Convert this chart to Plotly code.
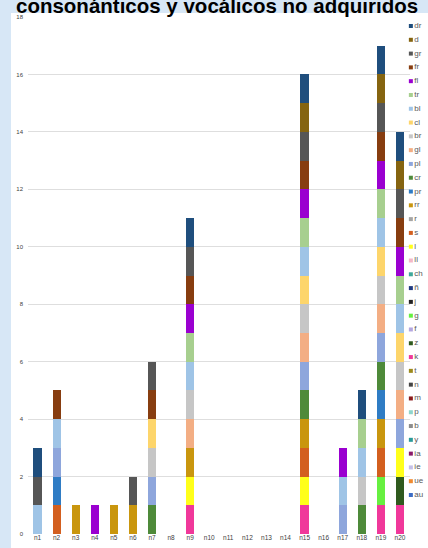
import plotly.graph_objects as go

# ---------------- DATA ----------------
categories = ["n1", "n2", "n3", "n4", "n5", "n6", "n7", "n8", "n9", "n10",
              "n11", "n12", "n13", "n14", "n15", "n16", "n17", "n18", "n19", "n20"]

y_ticks = [0, 2, 4, 6, 8, 10, 12, 14, 16, 18]

title_text = "consonánticos y vocálicos no adquiridos"

# series listed in legend order (top of stack first)
series_names = ["dr", "d", "gr", "fr", "fl", "tr", "bl", "cl", "br", "gl",
                "pl", "cr", "pr", "rr", "r", "s", "l", "ll", "ch", "ñ",
                "j", "g", "f", "z", "k", "t", "n", "m", "p", "b",
                "y", "ia", "ie", "ue", "au"]

series_colors = ["#1f4e7d", "#856410", "#565656", "#873d10", "#9a00d0", "#a7cf8f", "#9fc4e6", "#fdd56b", "#c6c6c6", "#f3ae84",
                 "#8ea6dc", "#4e8a3a", "#2f7cc4", "#c9960e", "#a5a5a5", "#d35f1f", "#ffff1a", "#f4b8c8", "#3fa89a", "#203a80",
                 "#222222", "#66f040", "#b4a7e0", "#2f5a1e", "#f0389a", "#9c8a1c", "#444444", "#8b1a1a", "#8fd5cc", "#8c8c8c",
                 "#2a9a9a", "#8a1a6a", "#c4c0e8", "#f08a30", "#3c6cc4"]

v_dr = [1, 0, 0, 0, 0, 0, 0, 0, 1, 0, 0, 0, 0, 0, 1, 0, 0, 1, 1, 1]
v_d  = [0, 0, 0, 0, 0, 0, 0, 0, 0, 0, 0, 0, 0, 0, 1, 0, 0, 0, 1, 1]
v_gr = [1, 0, 0, 0, 0, 1, 1, 0, 1, 0, 0, 0, 0, 0, 1, 0, 0, 0, 1, 1]
v_fr = [0, 1, 0, 0, 0, 0, 1, 0, 1, 0, 0, 0, 0, 0, 1, 0, 0, 0, 1, 1]
v_fl = [0, 0, 0, 1, 0, 0, 0, 0, 1, 0, 0, 0, 0, 0, 1, 0, 1, 0, 1, 1]
v_tr = [0, 0, 0, 0, 0, 0, 0, 0, 1, 0, 0, 0, 0, 0, 1, 0, 0, 1, 1, 1]
v_bl = [1, 1, 0, 0, 0, 0, 0, 0, 1, 0, 0, 0, 0, 0, 1, 0, 1, 1, 1, 1]
v_cl = [0, 0, 0, 0, 0, 0, 1, 0, 0, 0, 0, 0, 0, 0, 1, 0, 0, 0, 1, 1]
v_br = [0, 0, 0, 0, 0, 0, 1, 0, 1, 0, 0, 0, 0, 0, 1, 0, 0, 1, 1, 1]
v_gl = [0, 0, 0, 0, 0, 0, 0, 0, 1, 0, 0, 0, 0, 0, 1, 0, 0, 0, 1, 1]
v_pl = [0, 1, 0, 0, 0, 0, 1, 0, 0, 0, 0, 0, 0, 0, 1, 0, 1, 0, 1, 1]
v_cr = [0, 0, 0, 0, 0, 0, 1, 0, 0, 0, 0, 0, 0, 0, 1, 0, 0, 1, 1, 0]
v_pr = [0, 1, 0, 0, 0, 0, 0, 0, 0, 0, 0, 0, 0, 0, 0, 0, 0, 0, 1, 0]
v_rr = [0, 0, 1, 0, 1, 1, 0, 0, 1, 0, 0, 0, 0, 0, 1, 0, 0, 0, 1, 0]
v_r  = [0, 0, 0, 0, 0, 0, 0, 0, 0, 0, 0, 0, 0, 0, 0, 0, 0, 0, 0, 0]
v_s  = [0, 1, 0, 0, 0, 0, 0, 0, 0, 0, 0, 0, 0, 0, 1, 0, 0, 0, 1, 0]
v_l  = [0, 0, 0, 0, 0, 0, 0, 0, 1, 0, 0, 0, 0, 0, 1, 0, 0, 0, 0, 1]
v_ll = [0, 0, 0, 0, 0, 0, 0, 0, 0, 0, 0, 0, 0, 0, 0, 0, 0, 0, 0, 0]
v_ch = [0, 0, 0, 0, 0, 0, 0, 0, 0, 0, 0, 0, 0, 0, 0, 0, 0, 0, 0, 0]
v_nn = [0, 0, 0, 0, 0, 0, 0, 0, 0, 0, 0, 0, 0, 0, 0, 0, 0, 0, 0, 0]
v_j  = [0, 0, 0, 0, 0, 0, 0, 0, 0, 0, 0, 0, 0, 0, 0, 0, 0, 0, 0, 0]
v_g  = [0, 0, 0, 0, 0, 0, 0, 0, 0, 0, 0, 0, 0, 0, 0, 0, 0, 0, 1, 0]
v_f  = [0, 0, 0, 0, 0, 0, 0, 0, 0, 0, 0, 0, 0, 0, 0, 0, 0, 0, 0, 0]
v_z  = [0, 0, 0, 0, 0, 0, 0, 0, 0, 0, 0, 0, 0, 0, 0, 0, 0, 0, 0, 1]
v_k  = [0, 0, 0, 0, 0, 0, 0, 0, 1, 0, 0, 0, 0, 0, 1, 0, 0, 0, 1, 1]
v_t  = [0, 0, 0, 0, 0, 0, 0, 0, 0, 0, 0, 0, 0, 0, 0, 0, 0, 0, 0, 0]
v_n  = [0, 0, 0, 0, 0, 0, 0, 0, 0, 0, 0, 0, 0, 0, 0, 0, 0, 0, 0, 0]
v_m  = [0, 0, 0, 0, 0, 0, 0, 0, 0, 0, 0, 0, 0, 0, 0, 0, 0, 0, 0, 0]
v_p  = [0, 0, 0, 0, 0, 0, 0, 0, 0, 0, 0, 0, 0, 0, 0, 0, 0, 0, 0, 0]
v_b  = [0, 0, 0, 0, 0, 0, 0, 0, 0, 0, 0, 0, 0, 0, 0, 0, 0, 0, 0, 0]
v_y  = [0, 0, 0, 0, 0, 0, 0, 0, 0, 0, 0, 0, 0, 0, 0, 0, 0, 0, 0, 0]
v_ia = [0, 0, 0, 0, 0, 0, 0, 0, 0, 0, 0, 0, 0, 0, 0, 0, 0, 0, 0, 0]
v_ie = [0, 0, 0, 0, 0, 0, 0, 0, 0, 0, 0, 0, 0, 0, 0, 0, 0, 0, 0, 0]
v_ue = [0, 0, 0, 0, 0, 0, 0, 0, 0, 0, 0, 0, 0, 0, 0, 0, 0, 0, 0, 0]
v_au = [0, 0, 0, 0, 0, 0, 0, 0, 0, 0, 0, 0, 0, 0, 0, 0, 0, 0, 0, 0]

series_values = [v_dr, v_d, v_gr, v_fr, v_fl, v_tr, v_bl, v_cl, v_br, v_gl,
                 v_pl, v_cr, v_pr, v_rr, v_r, v_s, v_l, v_ll, v_ch, v_nn,
                 v_j, v_g, v_f, v_z, v_k, v_t, v_n, v_m, v_p, v_b,
                 v_y, v_ia, v_ie, v_ue, v_au]

# ---------------- FIGURE ----------------
W, H = 428, 548
ML, MR, MT, MB = 28, 0, 17, 14
FONT = "Liberation Sans, Arial, sans-serif"
pw = W - ML - MR
ph = H - MT - MB


def px_to_paper_y(py):
    return (H - MB - py) / ph


def px_to_paper_x(px):
    return (px - ML) / pw


fig = go.Figure()

# stacked bars: first trace sits at the bottom, so add in reverse legend order
for name, color, vals in reversed(list(zip(series_names, series_colors, series_values))):
    fig.add_trace(go.Bar(
        x=categories, y=vals, name=name,
        marker=dict(color=color, line=dict(width=0)),
        showlegend=False,
    ))

# compact Excel-style legend: tiny markers, labels cut by the page edge
n_items = len(series_names)
fig.add_trace(go.Scatter(
    x=[0] * n_items,
    y=list(range(n_items)),
    xaxis="x2", yaxis="y2",
    mode="markers+text",
    marker=dict(symbol="square", size=4, color=series_colors),
    text=series_names,
    textposition="middle right",
    textfont=dict(family=FONT, size=8, color="#595959"),
    cliponaxis=False,
    hoverinfo="skip",
    showlegend=False,
))

leg_top_px, leg_bot_px = 26, 495
leg_step = (leg_bot_px - leg_top_px) / (n_items - 1)
leg_pad = 0.3

fig.update_layout(
    width=W, height=H,
    margin=dict(l=ML, r=MR, t=MT, b=MB, pad=0, autoexpand=False),
    paper_bgcolor="#d7e7f6",
    plot_bgcolor="rgba(0,0,0,0)",
    barmode="stack",
    bargap=0.57,
    showlegend=False,
    font=dict(family=FONT),
    xaxis=dict(
        domain=[0, px_to_paper_x(409.5)],
        type="category", categoryorder="array", categoryarray=categories,
        showgrid=False, showline=False, zeroline=False, ticks="",
        tickfont=dict(family=FONT, size=6.5, color="#404040"),
        ticklabelstandoff=-2,
        fixedrange=True,
    ),
    yaxis=dict(
        range=[0, 18], tickvals=y_ticks, ticktext=[str(v) for v in y_ticks],
        showgrid=True, gridcolor="#dedede", gridwidth=1,
        zeroline=False, showline=False, ticks="",
        tickfont=dict(family=FONT, size=6, color="#404040"),
        ticklabelstandoff=4,
        fixedrange=True,
    ),
    xaxis2=dict(domain=[px_to_paper_x(410), 1], range=[-0.05, 1], anchor="y2",
                visible=False, fixedrange=True),
    yaxis2=dict(domain=[px_to_paper_y(leg_bot_px + leg_pad * leg_step),
                        px_to_paper_y(leg_top_px - leg_pad * leg_step)],
                range=[n_items - 1 + leg_pad, -leg_pad], anchor="x2",
                visible=False, fixedrange=True),
    shapes=[dict(
        type="rect", xref="paper", yref="paper", layer="below",
        x0=px_to_paper_x(11), x1=px_to_paper_x(W + 20),
        y0=px_to_paper_y(H + 20), y1=px_to_paper_y(13),
        fillcolor="white", line=dict(width=0),
    )],
    annotations=[dict(
        text="<b>" + title_text + "</b>",
        xref="paper", yref="paper",
        x=px_to_paper_x(216.5), y=px_to_paper_y(19),
        xanchor="center", yanchor="bottom",
        showarrow=False,
        font=dict(family=FONT, size=20.5, color="#000000"),
    )],
)

fig.write_html(
    "out.html",
    config={"displayModeBar": False, "staticPlot": True},
    post_script="document.body.style.margin='0';document.body.style.overflow='hidden';",
)
